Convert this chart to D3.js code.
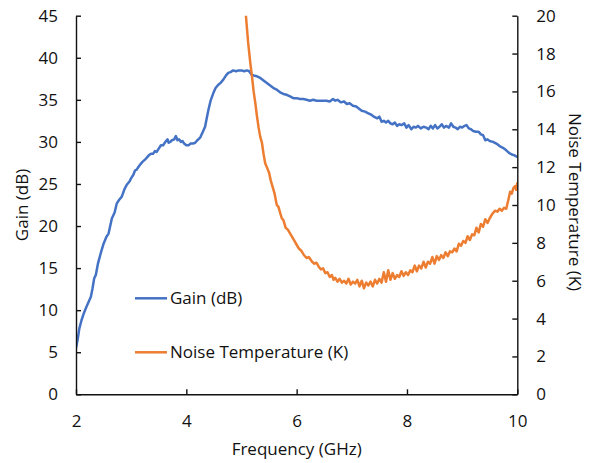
<!DOCTYPE html>
<html>
<head>
<meta charset="utf-8">
<script src="https://cdn.jsdelivr.net/npm/d3@7"></script>
<style>
  html, body { margin: 0; padding: 0; background: #fff; }
  svg { display: block; }
  text { font-family: "Open Sans", "Noto Sans", sans-serif; fill: #111; }
</style>
</head>
<body>
<svg id="chart" width="598" height="463"></svg>
<script>
// ---- Data ----
const gainFreq = [2.00,2.03,2.06,2.10,2.14,2.19,2.23,2.27,2.30,2.33,2.36,2.40,2.45,2.50,2.55,2.59,2.62,2.65,2.70,2.74,2.78,2.83,2.88,2.92,2.97,3.00,3.04,3.07,3.10,3.15,3.20,3.25,3.28,3.32,3.36,3.40,3.43,3.46,3.50,3.54,3.58,3.62,3.66,3.68,3.71,3.74,3.78,3.81,3.84,3.87,3.90,3.93,3.96,4.00,4.04,4.08,4.12,4.16,4.20,4.25,4.30,4.34,4.37,4.40,4.44,4.49,4.53,4.58,4.62,4.67,4.72,4.76,4.80,4.85,4.90,4.95,5.00,5.05,5.10,5.14,5.18,5.22,5.28,5.34,5.40,5.46,5.52,5.58,5.64,5.70,5.76,5.82,5.88,5.94,6.00,6.06,6.12,6.18,6.24,6.30,6.36,6.42,6.48,6.54,6.60,6.66,6.70,6.74,6.80,6.86,6.91,6.96,7.02,7.08,7.12,7.18,7.24,7.30,7.36,7.40,7.46,7.50,7.54,7.58,7.62,7.66,7.70,7.74,7.78,7.82,7.86,7.90,7.95,7.99,8.03,8.08,8.12,8.16,8.20,8.25,8.30,8.35,8.39,8.43,8.47,8.51,8.55,8.59,8.63,8.67,8.71,8.76,8.80,8.84,8.88,8.92,8.96,9.00,9.04,9.08,9.12,9.16,9.20,9.25,9.30,9.34,9.38,9.42,9.46,9.50,9.56,9.62,9.68,9.74,9.80,9.85,9.90,9.95,10.00];
const gainDb = [5.5,6.5,7.8,8.8,9.6,10.4,11.0,11.6,12.6,13.8,14.2,15.6,16.8,17.9,18.7,19.1,20.0,20.9,21.6,22.7,23.1,23.5,24.4,24.9,25.3,25.7,26.1,26.6,26.7,27.2,27.6,27.9,28.1,28.4,28.6,28.6,28.9,28.8,29.2,29.6,29.6,30.0,30.3,29.9,30.0,30.2,30.3,30.7,30.2,30.3,30.0,30.1,29.8,29.6,29.6,29.8,29.8,29.9,30.2,30.5,31.2,31.8,32.8,33.8,34.9,35.8,36.4,36.8,37.0,37.4,37.9,38.2,38.3,38.5,38.4,38.5,38.5,38.4,38.5,38.4,38.0,37.9,37.8,37.6,37.3,37.0,36.7,36.4,36.2,35.9,35.7,35.6,35.4,35.2,35.2,35.1,35.1,35.0,34.9,35.0,34.9,34.9,34.9,34.9,34.8,35.1,34.9,35.0,34.7,34.8,34.5,34.6,34.3,34.2,34.0,33.7,33.6,33.4,33.2,33.0,32.8,33.0,32.4,32.5,32.3,32.5,32.2,32.1,32.3,31.9,32.1,32.0,32.2,31.7,32.0,31.5,31.8,31.7,31.9,31.6,31.8,31.7,31.5,31.9,31.6,32.0,31.6,31.8,32.1,31.7,31.9,31.7,32.2,31.8,31.7,31.5,31.8,31.7,31.9,32.0,31.6,31.5,31.3,31.2,31.2,30.9,30.8,30.2,30.3,30.1,30.0,29.8,29.5,29.3,29.0,28.7,28.5,28.4,28.2];

const noiseFreq = [5.08,5.12,5.16,5.19,5.22,5.25,5.28,5.31,5.34,5.37,5.40,5.43,5.46,5.50,5.53,5.56,5.60,5.64,5.67,5.70,5.73,5.76,5.80,5.84,5.88,5.92,5.96,6.00,6.04,6.08,6.13,6.18,6.22,6.28,6.32,6.36,6.40,6.44,6.48,6.52,6.56,6.60,6.64,6.67,6.70,6.74,6.78,6.82,6.86,6.90,6.94,6.98,7.02,7.06,7.10,7.14,7.18,7.22,7.26,7.30,7.34,7.38,7.42,7.46,7.50,7.54,7.58,7.62,7.66,7.70,7.74,7.78,7.82,7.86,7.90,7.94,7.98,8.02,8.06,8.10,8.14,8.18,8.22,8.26,8.30,8.34,8.38,8.42,8.46,8.50,8.54,8.58,8.62,8.66,8.70,8.74,8.78,8.82,8.86,8.90,8.94,8.98,9.02,9.06,9.10,9.14,9.18,9.22,9.26,9.30,9.34,9.38,9.42,9.46,9.50,9.55,9.60,9.64,9.68,9.72,9.76,9.80,9.84,9.87,9.90,9.93,9.96,9.98,10.00];
const noiseK = [20.0,18.6,17.5,16.8,16.0,15.4,14.7,14.1,13.6,13.3,12.7,12.2,12.0,11.7,11.3,11.0,10.6,10.0,9.9,9.6,9.3,9.2,8.8,8.7,8.5,8.3,8.1,7.9,7.7,7.6,7.36,7.2,7.25,7.0,6.9,6.95,6.74,6.6,6.65,6.4,6.45,6.2,6.3,6.05,6.15,5.95,6.1,5.9,6.0,5.85,6.1,5.8,5.95,5.85,6.05,5.7,6.0,5.6,5.9,5.75,5.95,5.7,6.05,5.85,6.1,5.9,6.45,5.95,6.55,6.05,6.4,6.1,6.3,6.2,6.5,6.25,6.45,6.3,6.55,6.45,6.8,6.5,6.8,6.65,7.0,6.7,7.0,6.9,7.25,6.9,7.3,7.1,7.35,7.2,7.5,7.3,7.55,7.5,7.7,7.55,7.95,7.85,8.1,8.0,8.35,8.15,8.45,8.4,8.8,8.55,9.0,8.85,9.25,9.05,9.3,9.55,9.7,9.65,9.8,9.7,9.85,9.8,10.3,10.7,10.6,10.9,11.0,10.8,11.15];

const xTicks = [2, 4, 6, 8, 10];
const gainTicks = [0, 5, 10, 15, 20, 25, 30, 35, 40, 45];
const noiseTicks = [0, 2, 4, 6, 8, 10, 12, 14, 16, 18, 20];

const seriesNames = ["Gain (dB)", "Noise Temperature (K)"];
const seriesColors = ["#4472C4", "#ED7D31"];

// ---- Layout ----
const svg = d3.select("#chart");
const pL = 76, pR = 517.3, pT = 15.7, pB = 394.3;

const x = d3.scaleLinear().domain([2, 10]).range([pL, pR]);
const yG = d3.scaleLinear().domain([0, 45]).range([pB, pT]);
const yN = d3.scaleLinear().domain([0, 20]).range([pB, pT]);

svg.append("defs").append("clipPath").attr("id", "clip")
  .append("rect").attr("x", pL).attr("y", pT)
  .attr("width", pR - pL).attr("height", pB - pT);

// Series
const gainData = gainFreq.map((f, i) => [f, gainDb[i]]);
const noiseData = noiseFreq.map((f, i) => [f, noiseK[i]]);

const plot = svg.append("g").attr("clip-path", "url(#clip)");
plot.append("path").datum(gainData)
  .attr("fill", "none").attr("stroke", seriesColors[0]).attr("stroke-width", 2.5)
  .attr("stroke-linejoin", "round").attr("stroke-linecap", "round")
  .attr("d", d3.line().x(d => x(d[0])).y(d => yG(d[1])));
plot.append("path").datum(noiseData)
  .attr("fill", "none").attr("stroke", seriesColors[1]).attr("stroke-width", 2.5)
  .attr("stroke-linejoin", "round").attr("stroke-linecap", "round")
  .attr("d", d3.line().x(d => x(d[0])).y(d => yN(d[1])));

// Axes
const axisColor = "#111";
const fs = "17px";

const gx = svg.append("g").attr("transform", `translate(0,${pB})`)
  .call(d3.axisBottom(x).tickValues(xTicks).tickSizeInner(-5).tickSizeOuter(0).tickPadding(21).tickFormat(d3.format("d")));
const gl = svg.append("g").attr("transform", `translate(${pL},0)`)
  .call(d3.axisLeft(yG).tickValues(gainTicks).tickSizeInner(-5).tickSizeOuter(0).tickPadding(18).tickFormat(d3.format("d")));
const gr = svg.append("g").attr("transform", `translate(${pR},0)`)
  .call(d3.axisRight(yN).tickValues(noiseTicks).tickSizeInner(-5).tickSizeOuter(0).tickPadding(19).tickFormat(d3.format("d")));

[gx, gl, gr].forEach(g => {
  g.select(".domain").attr("stroke", axisColor).attr("stroke-width", 1.4);
  g.selectAll(".tick line").attr("stroke", axisColor).attr("stroke-width", 1.4);
  g.selectAll(".tick text").attr("fill", "#111").style("font-size", fs)
    .style("font-family", '"Open Sans", sans-serif');
});

// Axis titles
svg.append("text").attr("x", (pL + pR) / 2).attr("y", 455)
  .attr("text-anchor", "middle").style("font-size", "17px").text("Frequency (GHz)");
svg.append("text").attr("transform", `translate(28,${(pT + pB) / 2}) rotate(-90)`)
  .attr("text-anchor", "middle").style("font-size", "17px").text("Gain (dB)");
svg.append("text").attr("transform", `translate(569,${(pT + pB) / 2 - 3}) rotate(90)`)
  .attr("text-anchor", "middle").style("font-size", "17px").text("Noise Temperature (K)");

// Legend
const legY = [298.3, 352.3];
seriesNames.forEach((name, i) => {
  svg.append("line").attr("x1", 135).attr("x2", 167)
    .attr("y1", legY[i]).attr("y2", legY[i])
    .attr("stroke", seriesColors[i]).attr("stroke-width", 2.5);
  svg.append("text").attr("x", 170).attr("y", legY[i]).attr("dy", "0.35em")
    .style("font-size", "17px").text(name);
});
</script>
</body>
</html>
